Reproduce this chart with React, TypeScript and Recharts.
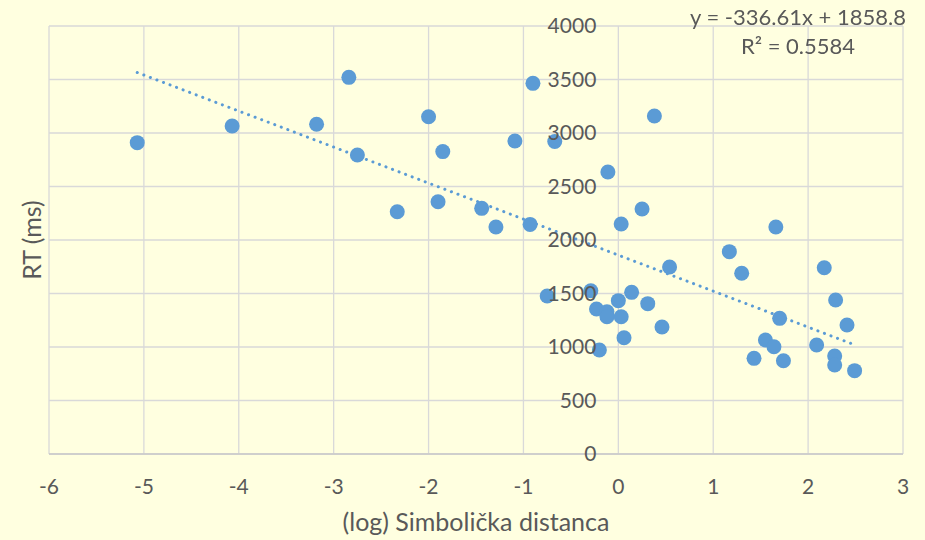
import { ScatterChart, Scatter, XAxis, YAxis, CartesianGrid, ReferenceDot, ReferenceLine } from 'recharts';

// (log) symbolic distance vs. reaction time
const distance = [
  -5.07, -4.07, -3.18, -2.84, -2.75, -2.33, -2.0, -1.9, -1.85, -1.44, -1.29, -1.09, -0.93, -0.9, -0.67,
  -0.75, -0.29, -0.23, -0.12, -0.12, -0.2, -0.11, 0.0, 0.03, 0.06, 0.03, 0.14, 0.25, 0.31, 0.38, 0.46,
  0.54, 1.17, 1.3, 1.43, 1.55, 1.64, 1.66, 1.7, 1.74, 2.09, 2.17, 2.29, 2.28, 2.28, 2.41, 2.49,
];
const rt = [
  2910, 3065, 3082, 3520, 2794, 2264, 3152, 2358, 2826, 2296, 2121, 2925, 2146, 3464, 2920,
  1477, 1526, 1355, 1330, 1283, 972, 2636, 1433, 1283, 1087, 2150, 1511, 2290, 1405, 3159, 1187,
  1748, 1891, 1689, 894, 1065, 1003, 2121, 1268, 872, 1019, 1741, 1439, 916, 832, 1206, 779,
];

const xTicks = [-6, -5, -4, -3, -2, -1, 0, 1, 2, 3];
const yTicks = [0, 500, 1000, 1500, 2000, 2500, 3000, 3500, 4000];

// linear trendline from the original chart
const slope = -336.61;
const intercept = 1858.8;
const equation = 'y = -336.61x + 1858.8';
const rSquared = 'R² = 0.5584';

const points = distance.map((x, i) => ({ x, y: rt[i] }));
const xMin = Math.min(...distance);
const xMax = Math.max(...distance);

const FONT = 'Lato, "Noto Sans", sans-serif';
const TEXT = '#595959';
const BLUE = '#5B9BD5';

export default function App() {
  return (
    <div style={{ position: 'fixed', left: 0, top: 0, width: 925, height: 540, background: '#FFFFE0' }}>
      <ScatterChart width={925} height={540} margin={{ top: 26, right: 22, bottom: 0, left: 15 }}>
        <CartesianGrid stroke='#D9D9D9' strokeWidth={1.3} horizontalValues={yTicks} verticalValues={xTicks} />
        <XAxis
          type='number'
          dataKey='x'
          domain={[-6, 3]}
          ticks={xTicks}
          allowDataOverflow
          height={86}
          axisLine={{ stroke: '#C8C8C8', strokeWidth: 1.3 }}
          tickLine={false}
          tickSize={6}
          tickMargin={19}
          tick={{ fill: TEXT, fontSize: 21, fontFamily: FONT }}
          label={{
            value: '(log) Simbolička distanca',
            position: 'insideBottom',
            offset: 9,
            fill: TEXT,
            fontSize: 25,
            fontFamily: FONT,
          }}
        />
        <YAxis
          type='number'
          dataKey='y'
          domain={[0, 4000]}
          ticks={yTicks}
          width={34}
          axisLine={false}
          tickLine={false}
          tick={() => <g />}
          label={{
            value: 'RT (ms)',
            angle: -90,
            position: 'center',
            fill: TEXT,
            fontSize: 25,
            fontFamily: FONT,
          }}
        />
        {yTicks.map((t) => (
          <ReferenceDot
            key={t}
            x={0}
            y={t}
            r={0}
            fill='none'
            stroke='none'
            label={{ value: String(t), position: 'left', offset: 22, fill: TEXT, fontSize: 21, fontFamily: FONT }}
          />
        ))}
        <ReferenceLine
          segment={[
            { x: xMin, y: slope * xMin + intercept },
            { x: xMax, y: slope * xMax + intercept },
          ]}
          stroke={BLUE}
          strokeWidth={3}
          strokeDasharray='0.1 6.9'
          strokeLinecap='round'
        />
        <Scatter
          data={points}
          isAnimationActive={false}
          shape={(p: any) => <circle cx={p.cx} cy={p.cy} r={7.5} fill={BLUE} />}
        />
      </ScatterChart>
      <div
        style={{
          position: 'absolute',
          left: 648,
          width: 300,
          top: 2,
          textAlign: 'center',
          color: TEXT,
          fontFamily: FONT,
          fontSize: 22,
          lineHeight: '29px',
          whiteSpace: 'nowrap',
        }}
      >
        <div>{equation}</div>
        <div>{rSquared}</div>
      </div>
    </div>
  );
}
